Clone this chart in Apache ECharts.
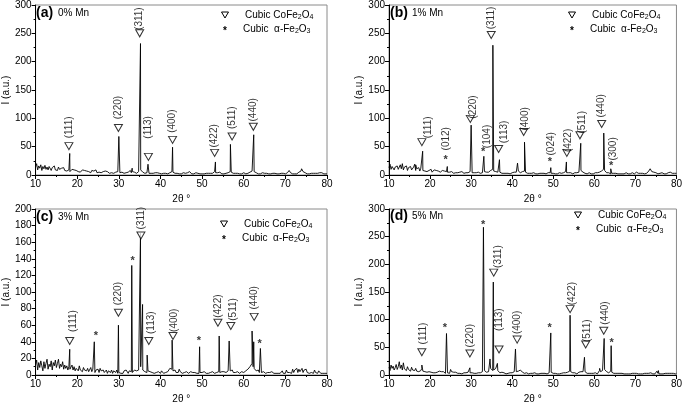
<!DOCTYPE html>
<html><head><meta charset="utf-8">
<script src="https://cdn.jsdelivr.net/npm/echarts@6/dist/echarts.min.js"></script>
<style>html,body{margin:0;padding:0;background:#fff}#c{width:685px;height:405px}</style>
</head><body><div id="c"></div>
<script>
// 2θ grid of the baseline arrays: starts at 10°, one value every 0.25°
const thetaStart = 10, thetaStep = 0.25;

// ---------- (a) 0% Mn ----------
const baseA = [
14,20,9,16, 12,18,8,15, 11,17,10,14, 9,15,12,8, 13,10,16,9, 11,8,14,10, 7,12,9,13, 8,11,7,10,
9,6,8,10, 7,9,6,8, 10,6,8,5, 7,9,6,8, 5,7,9,6, 6,4,8,5, 7,5,9,4, 6,5,7,4, 5,6,4,7, 4,6,5,3,
5,4,6,3, 4,5,3,6, 5,4,3,5, 4,3,5,4, 3,5,4,8, 4,6,3,5, 4,3,5,6, 7,9,6,5, 4,3,5,4, 5,3,4,3,
4,3,2,4, 3,4,2,3, 3,2,4,3, 2,3,4,2, 3,4,5,6, 5,4,3,2, 3,4,2,3, 2,3,4,2, 3,2,4,3, 6,3,2,3,
2,3,4,2, 3,4,2,3, 2,3,2,4, 3,2,3,2, 3,4,3,5, 6,4,5,4, 3,5,3,2, 3,2,4,3, 3,4,5,6, 5,4,3,2,
3,2,3,4, 2,3,2,3, 4,3,2,3, 3,4,5,6, 7,8,6,5, 4,3,2,3, 2,3,4,2, 3,2,3,2, 2,3,2,4, 3,2,3,2,
2,3,2,3, 3,2,3,2, 2,3,4,5, 6,4,3,2, 3,2,3,2, 3,5,6,7, 8,6,5,4, 3,2,3,2, 2,3,2,3, 2,3,2,3,
3,4,5,4, 3,2,3,2, 2];
const peaksA = [[18.2,38],[30.0,68],[33.2,12],[35.2,232],[37.0,19],[42.9,49],[47.0,7],[53.2,23],[56.8,54],[62.4,71],[70.9,8],[73.9,11],[78.8,7]];
const triA = [[18.0,51],[29.9,83],[35.0,250],[37.1,32],[42.9,62],[53.0,39],[57.2,68],[62.3,85]];
const starA = [];
const hklA = [[18.0,84,'(111)'],[29.9,119,'(220)'],[34.9,276,'(311)'],[37.1,84,'(113)'],[42.9,95,'(400)'],[53.0,69,'(422)'],[57.2,101,'(511)'],[62.3,115,'(440)']];

// ---------- (b) 1% Mn ----------
const baseB = [
13,19,10,15, 17,9,14,11, 16,10,13,18, 11,20,9,14, 12,16,8,13, 10,15,9,12, 14,19,8,11, 10,13,7,12,
9,8,11,7, 10,6,9,8, 7,10,5,8, 9,6,8,5, 7,9,5,6, 8,5,7,4, 6,5,7,5, 4,6,5,3, 5,4,6,4, 3,5,4,6,
4,3,5,4, 3,4,5,6, 5,4,3,4, 3,4,3,5, 4,3,5,4, 5,6,4,5, 4,5,6,8, 9,10,7,5, 6,4,5,4, 5,4,3,4,
3,4,3,2, 3,4,2,3, 4,3,5,4, 5,6,7,5, 4,5,6,8, 7,5,4,3, 4,3,2,3, 3,4,3,2, 3,2,4,3, 2,3,4,3,
3,2,3,4, 3,4,3,2, 3,4,2,3, 2,3,4,3, 3,2,4,5, 6,4,5,4, 3,4,3,2, 3,4,3,4, 4,5,6,8, 7,5,4,3,
3,2,3,4, 3,2,3,2, 3,4,3,4, 4,5,6,7, 9,10,8,6, 4,3,4,3, 2,3,4,3, 2,3,4,2, 3,2,3,2, 3,2,3,4,
3,2,3,2, 3,4,3,2, 4,5,4,3, 2,3,4,3, 3,2,4,3, 5,7,9,8, 6,7,5,3, 4,3,2,3, 3,2,4,3, 2,3,2,3,
4,6,5,4, 3,2,3,2, 3];
const peaksB = [[16.5,18],[18.2,42],[24.2,15],[30.0,88],[33.1,33],[35.3,229],[36.9,27],[41.3,21],[43.0,58],[49.4,13],[53.2,23],[56.7,56],[62.3,74],[64.0,11],[73.6,11],[78.5,7]];
const triB = [[18.0,58],[29.8,99],[34.9,247],[36.7,46],[42.8,76],[53.3,39],[56.5,70],[61.8,90]];
const starB = [[23.8,32],[32.9,46],[49.2,29],[64.1,21]];
const hklB = [[19.6,84,'(111)'],[24.0,64,'(012)'],[30.4,120,'(220)'],[34.0,68,'(104)'],[35.0,277,'(311)'],[38.0,76,'(113)'],[43.3,99,'(400)'],[49.5,55,'(024)'],[53.6,61,'(422)'],[57.0,93,'(511)'],[61.6,122,'(440)'],[64.5,46,'(300)']];

// ---------- (c) 3% Mn ----------
const baseC = [
12,18,6,15, 9,17,11,5, 16,8,14,19, 7,13,10,17, 6,15,11,18, 9,14,19,8, 13,10,16,7, 12,8,11,6,
10,7,9,12, 6,10,5,8, 9,5,11,6, 8,4,9,6, 7,5,8,4, 6,9,4,7, 5,3,6,4, 7,3,8,5, 4,6,3,5, 6,2,5,4,
3,6,2,5, 4,3,6,2, 3,5,2,4, 2,5,3,6, 4,2,5,3, 4,3,5,6, 4,5,7,6, 8,10,9,6, 5,4,6,3, 5,3,4,2,
3,5,2,4, 3,2,4,3, 2,5,3,2, 4,3,5,4, 6,8,9,7, 5,4,6,3, 5,3,7,4, 3,2,4,3, 2,4,3,2, 3,4,2,3,
2,3,4,2, 3,2,3,4, 3,2,4,3, 2,3,2,4, 3,2,4,3, 2,4,3,5, 4,3,5,4, 3,4,5,3, 4,5,6,5, 4,6,3,4,
3,2,4,3, 2,3,4,2, 3,4,5,6, 7,9,10,12, 14,10,8,6, 5,4,6,3, 4,3,2,4, 3,2,4,3, 2,3,2,4, 3,2,3,2,
4,2,3,2, 3,5,2,4, 2,6,3,4, 3,5,2,7, 3,6,4,8, 3,7,4,6, 8,3,6,4, 7,3,5,2, 4,3,5,2, 6,3,4,2,
5,3,2,4, 2,3,2,1, 2];
const peaksC = [[18.2,31],[24.1,40],[29.9,60],[33.1,132],[35.2,171],[35.7,85],[36.8,24],[42.8,42],[49.4,34],[54.1,47],[56.5,41],[62.0,53],[62.4,40],[64.0,32]];
const triC = [[18.2,41],[29.9,75],[35.3,168],[37.2,41],[43.0,47],[53.8,63],[56.9,59],[62.5,70]];
const starC = [[24.5,51],[33.3,141],[49.2,45],[63.8,41]];
const hklC = [[19.0,65,'(111)'],[29.9,98,'(220)'],[35.3,189,'(311)'],[37.7,63,'(113)'],[43.2,66,'(400)'],[53.9,83,'(422)'],[57.5,79,'(511)'],[62.5,93,'(440)']];

// ---------- (d) 5% Mn ----------
const baseD = [
14,8,18,12, 16,9,13,19, 10,15,24,12, 18,9,22,11, 13,8,15,10, 12,7,14,9, 11,8,12,7, 10,6,9,8,
12,7,9,6, 8,5,7,6, 7,5,8,4, 6,4,7,5, 5,7,4,6, 4,6,5,3, 5,4,6,3, 10,6,4,5, 3,5,4,3, 4,3,5,2,
3,4,2,4, 3,5,6,4, 3,4,2,3, 4,3,2,4, 3,4,5,6, 7,8,6,5, 4,6,8,12, 10,8,9,10, 12,10,8,5, 4,3,5,3,
4,3,2,4, 3,5,4,3, 4,5,6,8, 6,5,7,8, 9,6,5,4, 3,5,4,3, 2,4,3,2, 3,2,4,3, 2,3,2,4, 3,2,3,2,
3,4,2,3, 4,3,5,4, 3,2,3,4, 2,3,2,3, 3,2,4,3, 4,3,5,6, 7,6,5,4, 3,4,3,2, 3,5,4,6, 5,6,8,6,
4,3,2,3, 4,3,2,3, 3,4,3,2, 5,8,6,7, 8,9,10,7, 6,5,4,6, 7,5,4,3, 6,3,2,3, 2,3,2,3, 4,2,3,2,
3,2,3,2, 4,3,2,3, 2,3,4,2, 3,2,3,2, 5,3,2,3, 2,3,2,4, 3,2,3,2, 4,7,3,2, 3,2,3,2, 2,3,2,3,
2,3,2,3, 2,3,2,2, 3];
const peaksD = [[18.0,18],[24.0,75],[29.7,13],[33.0,267],[34.6,29],[35.4,168],[36.4,21],[40.8,47],[49.4,76],[54.1,108],[57.6,32],[61.3,12],[62.4,66],[64.1,53],[75.6,8]];
const triD = [[18.0,41],[29.7,39],[35.5,185],[36.8,46],[41.2,64],[54.1,119],[57.9,55],[62.3,80]];
const starD = [[23.6,91],[32.9,277],[49.1,91],[64.2,64]];
const hklD = [[18.4,75,'(111)'],[29.7,71,'(220)'],[36.7,214,'(311)'],[36.9,100,'(113)'],[41.2,95,'(400)'],[54.7,147,'(422)'],[58.3,80,'(511)'],[62.7,112,'(440)']];

// ---------- axis ticks / labels ----------
const xMin = 10, xMax = 80, xInterval = 10;
const yMaxList = [300, 300, 200, 300];
const yIntervalList = [50, 50, 20, 50];
const panelLetters = ['(a)', '(b)', '(c)', '(d)'];
const panelMn = ['0% Mn', '1% Mn', '3% Mn', '5% Mn'];
const xName = '2θ °';
const yName = 'I (a.u.)';
const legendSpinel = 'Cubic CoFe';
const legendHematite = 'Cubic  α-Fe';

const FONT = '"Liberation Sans", Arial, Helvetica, sans-serif';

function buildLine(base, peaks) {
  const pts = base.map((v, i) => [thetaStart + i * thetaStep, v]);
  peaks.forEach(p => pts.push([p[0], p[1]]));
  pts.sort((a, b) => a[0] - b[0]);
  return pts;
}

const panels = [
  {base: baseA, peaks: peaksA, tri: triA, star: starA, hkl: hklA},
  {base: baseB, peaks: peaksB, tri: triB, star: starB, hkl: hklB},
  {base: baseC, peaks: peaksC, tri: triC, star: starC, hkl: hklC},
  {base: baseD, peaks: peaksD, tri: triD, star: starD, hkl: hklD}
];

// layout (pixels)
const grids = [
  {left: 35, top: 4, width: 292, height: 171},
  {left: 389, top: 4, width: 291, height: 171},
  {left: 35, top: 209, width: 292, height: 170},
  {left: 389, top: 209, width: 291, height: 171}
];
const titlePos = [[36, 13], [390, 13], [36, 217], [390, 216]];
const legendPos = [[225, 15], [572, 15], [224, 224], [578, 215]];

const option = {
  animation: false,
  backgroundColor: '#fff',
  textStyle: {fontFamily: FONT},
  grid: grids.map(g => Object.assign({show: true, borderColor: '#8a8a8a', borderWidth: 1, backgroundColor: 'transparent'}, g)),
  xAxis: grids.map((g, i) => ({
    type: 'value', gridIndex: i, min: xMin, max: xMax, interval: xInterval,
    name: xName, nameLocation: 'middle', nameGap: 19,
    nameTextStyle: {fontSize: 10, color: '#000', fontFamily: FONT},
    axisLine: {show: true, onZero: false, lineStyle: {color: '#000', width: 1}},
    axisTick: {show: true, inside: false, length: 4, lineStyle: {color: '#000'}},
    minorTick: {show: true, splitNumber: 2, length: 2, lineStyle: {color: '#000'}},
    axisLabel: {fontSize: 10, color: '#000', margin: 4, fontFamily: FONT},
    splitLine: {show: false}
  })),
  yAxis: grids.map((g, i) => ({
    type: 'value', gridIndex: i, min: 0, max: yMaxList[i], interval: yIntervalList[i],
    name: yName, nameLocation: 'middle', nameGap: 24, nameRotate: 90,
    nameTextStyle: {fontSize: 10, color: '#000', fontFamily: FONT},
    axisLine: {show: true, onZero: false, lineStyle: {color: '#000', width: 1}},
    axisTick: {show: true, inside: false, length: 4, lineStyle: {color: '#000'}},
    minorTick: {show: true, splitNumber: 2, length: 2, lineStyle: {color: '#000'}},
    axisLabel: {fontSize: 10, color: '#000', margin: 4, fontFamily: FONT},
    splitLine: {show: false}
  })),
  series: [],
  graphic: []
};

panels.forEach((p, i) => {
  option.series.push({
    type: 'line', xAxisIndex: i, yAxisIndex: i, data: buildLine(p.base, p.peaks),
    showSymbol: false, symbol: 'none', lineStyle: {color: '#000', width: 0.9}, z: 2, clip: true
  });
  option.series.push({
    type: 'scatter', xAxisIndex: i, yAxisIndex: i, data: p.tri,
    symbol: 'triangle', symbolRotate: 180, symbolSize: [8, 7],
    itemStyle: {color: '#fff', borderColor: '#000', borderWidth: 1}, z: 5
  });
  option.series.push({
    type: 'scatter', xAxisIndex: i, yAxisIndex: i, data: p.star,
    symbolSize: 1, itemStyle: {color: 'rgba(0,0,0,0)'}, z: 5,
    label: {show: true, position: 'inside', formatter: '*', fontSize: 11, fontWeight: 'bold', color: '#000', offset: [0, 3], fontFamily: FONT}
  });
  option.series.push({
    type: 'scatter', xAxisIndex: i, yAxisIndex: i, data: p.hkl,
    symbolSize: 1, itemStyle: {color: 'rgba(0,0,0,0)'}, z: 5,
    label: {show: true, position: 'inside', rotate: 90, formatter: q => q.value[2], fontSize: 10, color: '#000', fontFamily: FONT}
  });

  const [tx, ty] = titlePos[i];
  option.graphic.push({type: 'text', x: tx, y: ty, z: 10, style: {text: panelLetters[i], font: 'bold 14px ' + FONT, fill: '#000', textVerticalAlign: 'middle'}});
  option.graphic.push({type: 'text', x: tx + 22, y: ty, z: 10, style: {text: panelMn[i], font: '10px ' + FONT, fill: '#000', textVerticalAlign: 'middle'}});

  const [lx, ly] = legendPos[i];
  option.graphic.push({type: 'polygon', z: 10, shape: {points: [[lx - 3.5, ly - 3], [lx + 3.5, ly - 3], [lx, ly + 3]]}, style: {fill: '#fff', stroke: '#000', lineWidth: 1}});
  option.graphic.push({type: 'text', x: lx, y: ly + 14 + 2, z: 10, style: {text: '*', font: 'bold 10px ' + FONT, fill: '#000', textAlign: 'center', textVerticalAlign: 'middle'}});
  option.graphic.push({type: 'text', x: lx + 20, y: ly, z: 10, style: {
    text: '{t|' + legendSpinel + '}{s|2}{t|O}{s|4}', textVerticalAlign: 'middle',
    rich: {t: {fontSize: 10, fontFamily: FONT, fill: '#000', color: '#000'}, s: {fontSize: 7, fontFamily: FONT, color: '#000', padding: [5, 0, 0, 0]}}
  }});
  option.graphic.push({type: 'text', x: lx + 18, y: ly + 14, z: 10, style: {
    text: '{t|' + legendHematite + '}{s|2}{t|O}{s|3}', textVerticalAlign: 'middle',
    rich: {t: {fontSize: 10, fontFamily: FONT, color: '#000'}, s: {fontSize: 7, fontFamily: FONT, color: '#000', padding: [5, 0, 0, 0]}}
  }});
});

const chart = echarts.init(document.getElementById('c'), null, {renderer: 'canvas'});
chart.setOption(option);
</script>
</body></html>
